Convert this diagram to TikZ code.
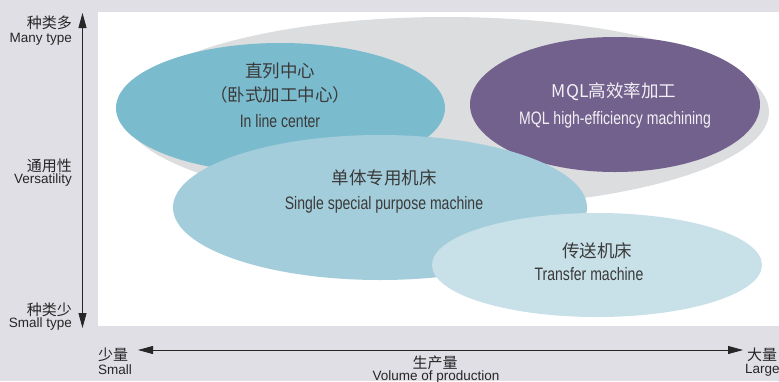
\documentclass[tikz,border=0pt]{standalone}
\usepackage{fontspec}
\setmainfont{Liberation Sans}
\newfontfamily\condfont[FakeStretch=0.78]{Liberation Sans}
\newfontfamily\cjkfont{Noto Sans CJK SC}
\usetikzlibrary{arrows.meta}
\usetikzlibrary{shapes.geometric}
\definecolor{paper}{HTML}{E1DFE6}
\definecolor{rangegray}{HTML}{DCDDDF}
\definecolor{inlineblue}{HTML}{7BBBCE}
\definecolor{mqlpurple}{HTML}{73618D}
\definecolor{singleblue}{HTML}{A3CDDB}
\definecolor{transferblue}{HTML}{C8E0E8}
\definecolor{inkgray}{HTML}{3A3A3A}
\definecolor{mqltext}{HTML}{F2F0F5}
\tikzset {
  % filled ellipse for one group of machines
  blob/.style = {
    ellipse,
    draw = none,
    inner sep = 0
  },
  % chinese line inside an ellipse
  zh/.style = {
    anchor = base,
    inner sep = 0,
    text = inkgray,
    font = \cjkfont\fontsize{17.5}{20}\selectfont
  },
  % english line inside an ellipse
  en/.style = {
    anchor = base,
    inner sep = 0,
    text = inkgray,
    font = \condfont\fontsize{18}{20}\selectfont
  }
}
\tikzset {
  axis/.style = {
    draw = black!85,
    line width = 0.8pt,
    >= {Triangle[length = 15pt, width = 8pt]},
    <->
  },
  axis zh/.style = {
    inner sep = 0,
    text = black!85,
    font = \cjkfont\fontsize{15}{17}\selectfont
  },
  axis en/.style = {
    inner sep = 0,
    text = black!85,
    font = \fontsize{13.5}{15}\selectfont
  }
}

\begin{document}
\begin{tikzpicture}[x = 1pt, y = -1pt]
    \useasboundingbox[fill = paper] (0,0) rectangle (779,381);
    \fill[white] (98,12) rectangle (779,326);

    % ellipses, back to front
    \node[blob, fill = rangegray, minimum width = 646pt, minimum height = 190pt] (range) at (446,112) {};
    \node[blob, fill = inlineblue, minimum width = 329pt, minimum height = 130pt] (inline) at (280.5,108) {};
    \node[blob, fill = mqlpurple, minimum width = 290pt, minimum height = 135pt] (mql) at (615,104.5) {};
    \node[blob, fill = singleblue, minimum width = 414pt, minimum height = 145pt] (single) at (380,207.5) {};
    \node[blob, fill = transferblue, minimum width = 330pt, minimum height = 104pt] (transfer) at (597,265) {};

    \node[zh] (inline-zh) at (280,77) {直列中心};
    \node[zh] (inline-sub) at (280,101.5) {（卧式加工中心）};
    \node[en] (inline-en) at (280,127) {In line center};

    \node[zh, text = mqltext] (mql-zh) at (614,97) {MQL高效率加工};
    \node[en, text = mqltext] (mql-en) at (615,124) {MQL high-efficiency machining};

    \node[zh] (single-zh) at (384,184.5) {单体专用机床};
    \node[en] (single-en) at (384,209) {Single special purpose machine};

    \node[zh] (transfer-zh) at (597,257) {传送机床};
    \node[en] (transfer-en) at (589,280) {Transfer machine};

    % versatility axis
    \coordinate (v-top) at (82.5,13);
    \coordinate (v-bot) at (82.5,328);
    \draw[axis] (v-top) -- (v-bot);

    \node[axis zh, anchor = base east] (many-zh) at (72,28) {种类多};
    \node[axis en, anchor = base east] (many-en) at (72,42) {Many type};
    \node[axis zh, anchor = base east] (vers-zh) at (72,171) {通用性};
    \node[axis en, anchor = base east] (vers-en) at (72,183) {Versatility};
    \node[axis zh, anchor = base east] (few-zh) at (72,315) {种类少};
    \node[axis en, anchor = base east] (few-en) at (72,327.5) {Small type};

    % production axis
    \coordinate (h-left) at (138,350);
    \coordinate (h-right) at (743,350);
    \draw[axis] (h-left) -- (h-right);

    \node[axis zh, anchor = base west] (small-zh) at (98,360.5) {少量};
    \node[axis en, anchor = base west] (small-en) at (98,374) {Small};
    \node[axis zh, anchor = base] (volume-zh) at (435,368.5) {生产量};
    \node[axis en, anchor = base] (volume-en) at (436,380) {Volume of production};
    \node[axis zh, anchor = base west] (large-zh) at (747,360.5) {大量};
    \node[axis en, anchor = base west] (large-en) at (745,373.5) {Large};
\end{tikzpicture}
\end{document}
